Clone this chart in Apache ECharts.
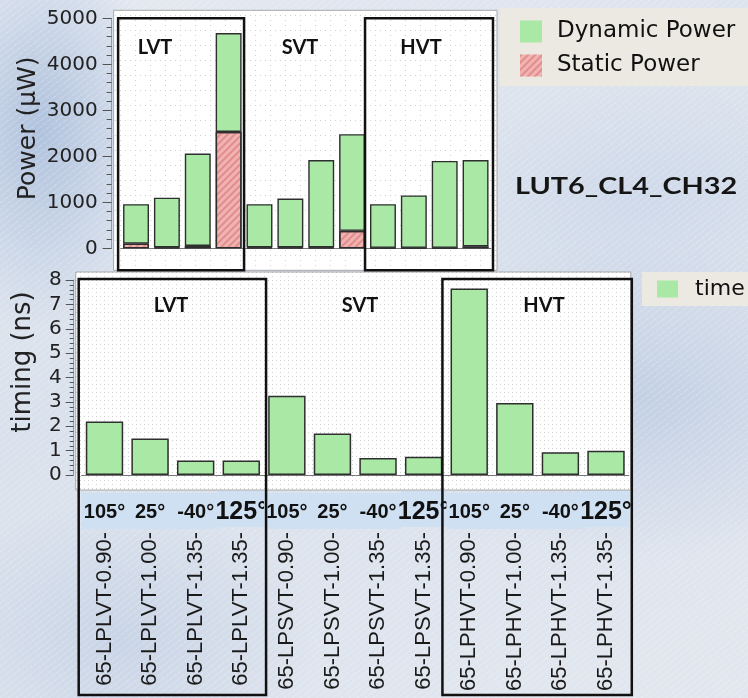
<!DOCTYPE html>
<html>
<head>
<meta charset="utf-8">
<script src="https://cdn.jsdelivr.net/npm/echarts@6/dist/echarts.min.js"></script>
<style>
  html, body { margin: 0; padding: 0; }
  #chart {
    width: 748px; height: 698px;
    background:
      repeating-linear-gradient(-38deg, rgba(255,255,255,0.18) 0 1px, rgba(255,255,255,0) 1px 5px),
      radial-gradient(ellipse 120px 200px at 40px 130px, rgba(160,182,215,0.75), rgba(160,182,215,0) 100%),
      radial-gradient(ellipse 260px 160px at 640px 400px, rgba(175,192,220,0.55), rgba(175,192,220,0) 100%),
      radial-gradient(ellipse 200px 140px at 120px 640px, rgba(180,196,222,0.5), rgba(180,196,222,0) 100%),
      radial-gradient(ellipse 200px 120px at 640px 200px, rgba(200,212,232,0.6), rgba(200,212,232,0) 100%),
      linear-gradient(160deg, #e4e9f1 0%, #d9e1ec 45%, #e2e7ef 100%);
  }
</style>
</head>
<body>
<div id="chart"></div>
<script>
// Library cells: threshold flavour, supply voltage and temperature corner
const categories = [
  '65-LPLVT-0.90-', '65-LPLVT-1.00-', '65-LPLVT-1.35-', '65-LPLVT-1.35-',
  '65-LPSVT-0.90-', '65-LPSVT-1.00-', '65-LPSVT-1.35-', '65-LPSVT-1.35-',
  '65-LPHVT-0.90-', '65-LPHVT-1.00-', '65-LPHVT-1.35-', '65-LPHVT-1.35-'
];
const temperatures = [
  '105°', '25°', '-40°', '125°',
  '105°', '25°', '-40°', '125°',
  '105°', '25°', '-40°', '125°'
];
const groupNames = ['LVT', 'SVT', 'HVT'];

// Power in µW (stacked: static at the bottom, dynamic above)
const staticPower  = [100, 20, 50, 2530, 20, 20, 20, 380, 10, 10, 10, 40];
const dynamicPower = [860, 1080, 2010, 2150, 940, 1060, 1900, 2100, 950, 1140, 1890, 1880];

// Delay in ns
const timing = [2.2, 1.5, 0.6, 0.6, 3.25, 1.7, 0.7, 0.75, 7.65, 2.95, 0.93, 1.0];

const GREEN = '#a9e9a5';
const PINK = '#f1b3b1';
const EDGE = '#2e2e2e';
const AXIS_FONT = 'DejaVu Sans';

// dotted background grid used inside the plotting panels
function dotPattern(step, dot) {
  const c = document.createElement('canvas');
  c.width = step; c.height = step;
  const g = c.getContext('2d');
  g.fillStyle = '#ffffff';
  g.fillRect(0, 0, step, step);
  g.fillStyle = '#cfcfcf';
  for (let i = 0; i < step; i += dot) {
    g.fillRect(i, 0, 1, 1);
    g.fillRect(0, i, 1, 1);
  }
  return { image: c, repeat: 'repeat' };
}

const chart = echarts.init(document.getElementById('chart'), null, { renderer: 'canvas' });

const tickStyle = { color: '#555', width: 1 };

const option = {
  animation: false,
  backgroundColor: 'transparent',
  textStyle: { fontFamily: AXIS_FONT },
  legend: [
    {
      data: ['Dynamic Power', 'Static Power'],
      orient: 'vertical',
      left: 500, top: 8,
      padding: [12, 40, 9, 20],
      itemGap: 11,
      itemWidth: 22, itemHeight: 22,
      icon: 'rect',
      backgroundColor: '#ebe9e1',
      itemStyle: { borderWidth: 0 },
      textStyle: { fontFamily: AXIS_FONT, fontSize: 23, color: '#111', padding: [0, 0, 0, 10] }
    },
    {
      data: ['time'],
      left: 642, top: 272,
      padding: [6, 30, 6, 15],
      itemWidth: 21, itemHeight: 17,
      icon: 'rect',
      backgroundColor: '#ebe9e1',
      itemStyle: { borderWidth: 0 },
      textStyle: { fontFamily: AXIS_FONT, fontSize: 22, color: '#111', padding: [0, 0, 0, 12] }
    }
  ],
  grid: [
    { left: 120.6, right: 257, top: 18.3, bottom: 449.7 },
    { left: 81.7, right: 119.2, top: 280, bottom: 223 }
  ],
  xAxis: [
    {
      type: 'category', gridIndex: 0, data: categories, offset: 14,
      axisLine: { lineStyle: { color: '#777' } },
      axisTick: { length: 6, interval: 0, lineStyle: tickStyle },
      axisLabel: { show: false }
    },
    {
      type: 'category', gridIndex: 0, data: categories, offset: 14, position: 'bottom',
      axisLine: { show: false },
      axisTick: { length: 6, interval: 0, alignWithLabel: true, lineStyle: tickStyle },
      axisLabel: { show: false }
    },
    {
      type: 'category', gridIndex: 1, data: categories, offset: 12,
      axisLine: { lineStyle: { color: '#777' } },
      axisTick: { length: 6, interval: 0, lineStyle: tickStyle },
      axisLabel: {
        interval: 0, rotate: 90, margin: 45,
        fontFamily: 'Liberation Sans', fontSize: 22, color: '#1a1a1a'
      }
    },
    {
      type: 'category', gridIndex: 1, data: temperatures, offset: 12, position: 'bottom',
      axisLine: { show: false },
      axisTick: { length: 6, interval: 0, alignWithLabel: true, lineStyle: tickStyle },
      axisLabel: {
        interval: 0, margin: 7,
        formatter: v => (v === '125°' ? '{big|' + v + '}' : '{t|' + v + '}'),
        rich: {
          t: {
            fontFamily: 'Liberation Sans', fontWeight: 'bold', fontSize: 20, color: '#111',
            width: 45.6, height: 34, lineHeight: 34, padding: [2, 0, 0, 0], align: 'center',
            backgroundColor: '#cfe0f2'
          },
          big: {
            fontFamily: 'Liberation Sans', fontWeight: 'bold', fontSize: 25, color: '#111',
            width: 45.6, height: 30, lineHeight: 30, padding: [6, 0, 0, 0], align: 'center',
            backgroundColor: '#cfe0f2'
          }
        }
      }
    }
  ],
  yAxis: [
    {
      type: 'value', gridIndex: 0, min: 0, max: 5000, interval: 1000, offset: 9,
      name: 'Power (µW)', nameLocation: 'middle', nameGap: 71,
      nameTextStyle: { fontFamily: AXIS_FONT, fontSize: 25, color: '#222', padding: [0, 0, 0, 10] },
      axisLine: { show: true, lineStyle: { color: '#9a9a9a' } },
      axisTick: { show: true, length: 9, lineStyle: tickStyle },
      minorTick: { show: true, splitNumber: 5, length: 5, lineStyle: tickStyle },
      splitLine: { show: false },
      axisLabel: {
        margin: 14, fontFamily: AXIS_FONT, fontSize: 20, color: '#222',
        formatter: v => String(v)
      }
    },
    {
      type: 'value', gridIndex: 1, min: 0, max: 8, interval: 1, offset: 8,
      name: 'timing (ns)', nameLocation: 'middle', nameGap: 37,
      nameTextStyle: { fontFamily: AXIS_FONT, fontSize: 26, color: '#222', padding: [0, 0, 0, 31] },
      axisLine: { show: true, lineStyle: { color: '#9a9a9a' } },
      axisTick: { show: true, length: 8, lineStyle: tickStyle },
      minorTick: { show: true, splitNumber: 5, length: 4, lineStyle: tickStyle },
      splitLine: { show: false },
      axisLabel: { margin: 12, fontFamily: AXIS_FONT, fontSize: 20, color: '#222' }
    }
  ],
  series: [
    {
      name: 'Static Power', type: 'bar', stack: 'power',
      xAxisIndex: 0, yAxisIndex: 0, barWidth: '84%',
      data: staticPower,
      itemStyle: {
        color: PINK, borderColor: EDGE, borderWidth: 1.4,
        decal: {
          symbol: 'rect', dashArrayX: [1, 0], dashArrayY: [1.5, 2.5],
          rotation: -Math.PI / 4, color: 'rgba(205,95,95,0.45)'
        }
      }
    },
    {
      name: 'Dynamic Power', type: 'bar', stack: 'power',
      xAxisIndex: 0, yAxisIndex: 0, barWidth: '84%',
      data: dynamicPower,
      itemStyle: { color: GREEN, borderColor: EDGE, borderWidth: 1.4 }
    },
    {
      name: 'time', type: 'bar',
      xAxisIndex: 2, yAxisIndex: 1, barWidth: '82%',
      data: timing,
      itemStyle: { color: GREEN, borderColor: EDGE, borderWidth: 1.5 }
    }
  ]
};

chart.setOption(option);

// Panels, group frames and captions, placed from the axes' own scales
const cx = (axisIndex, i) => chart.convertToPixel({ xAxisIndex: axisIndex }, i);
const cy = (axisIndex, v) => chart.convertToPixel({ yAxisIndex: axisIndex }, v);

const topBand = cx(0, 1) - cx(0, 0);
const botBand = cx(2, 1) - cx(2, 0);

const topPanel = { x: cx(0, 0) - topBand / 2 - 7, y: cy(0, 5000) - 8 };
topPanel.w = cx(0, 11) + topBand / 2 + 6 - topPanel.x;
topPanel.h = cy(0, 0) + 22 - topPanel.y;
const botPanel = { x: cx(2, 0) - botBand / 2 - 6, y: cy(1, 8) - 8 };
botPanel.w = cx(2, 11) + botBand / 2 + 2 - botPanel.x;
botPanel.h = cy(1, 0) + 15 - botPanel.y;

function frame(id, x0, x1, y0, y1) {
  return {
    type: 'rect', id, z: 50,
    shape: { x: x0, y: y0, width: x1 - x0, height: y1 - y0 },
    style: { fill: null, stroke: '#111', lineWidth: 2.5 }
  };
}

function caption(id, text, x, y) {
  return {
    type: 'text', id, z: 60, x, y,
    style: {
      text, fill: '#111', font: 'bold 20px Lato',
      textAlign: 'center', textVerticalAlign: 'middle'
    }
  };
}

const topTopY = cy(0, 5000);
const topBottomY = cy(0, 0) + 22;
const botTopY = cy(1, 8) - 1;
const botBottomY = 695;

chart.setOption({
  graphic: [
    {
      type: 'rect', id: 'panelTop', z: -10,
      shape: { x: topPanel.x, y: topPanel.y, width: topPanel.w, height: topPanel.h },
      style: { fill: dotPattern(15, 5), stroke: '#a8a8a8', lineWidth: 1 }
    },
    {
      type: 'rect', id: 'panelBottom', z: -10,
      shape: { x: botPanel.x, y: botPanel.y, width: botPanel.w, height: botPanel.h },
      style: { fill: dotPattern(8, 4), stroke: '#a8a8a8', lineWidth: 1 }
    },
    frame('boxTopL', cx(0, 0) - topBand / 2 - 2.5, cx(0, 3) + topBand / 2, topTopY, topBottomY),
    frame('boxTopH', cx(0, 8) - topBand / 2 - 2.5, cx(0, 11) + topBand / 2 + 2, topTopY, topBottomY),
    frame('boxBotL', cx(2, 0) - botBand / 2 - 3, cx(2, 3) + botBand / 2 + 2, botTopY, botBottomY),
    frame('boxBotH', cx(2, 8) - botBand / 2 - 4, cx(2, 11) + botBand / 2 + 3, botTopY, botBottomY),
    caption('capTop0', groupNames[0], 155, 48),
    caption('capTop1', groupNames[1], 300, 48),
    caption('capTop2', groupNames[2], 421, 48),
    caption('capBot0', groupNames[0], 171, 306),
    caption('capBot1', groupNames[1], 360, 306),
    caption('capBot2', groupNames[2], 544, 306),
    {
      type: 'text', id: 'cellName', z: 60, x: 515, y: 187, scaleX: 1.31,
      style: {
        text: 'LUT6_CL4_CH32', fill: '#151515', font: 'bold 22px Lato',
        textAlign: 'left', textVerticalAlign: 'middle'
      }
    }
  ]
});
</script>
</body>
</html>
